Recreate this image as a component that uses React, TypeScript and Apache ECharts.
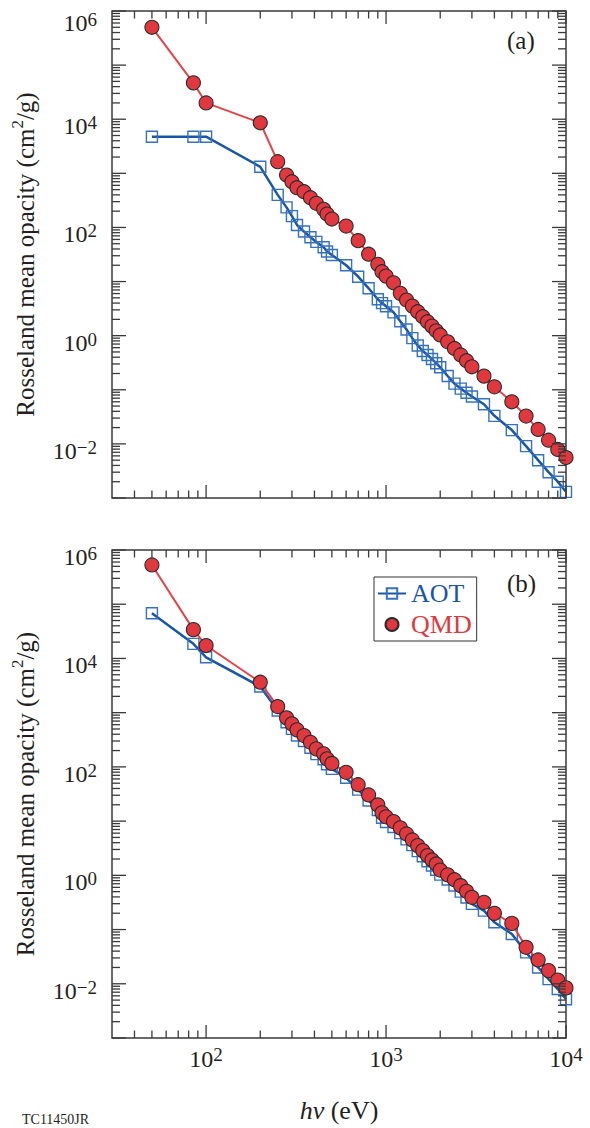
import React, { useEffect, useRef } from "react";
import * as echarts from "echarts";

// ---------- data ----------
const photonEnergyEV = [
  50, 85, 100, 200, 250, 280, 300, 320, 350, 380, 410, 450, 470, 500, 600, 700, 800, 900, 950, 1000,
  1100, 1200, 1300, 1400, 1500, 1600, 1700, 1800, 1900, 2000, 2200, 2400, 2600, 2800, 3000, 3500, 4000,
  5000, 6000, 7000, 8000, 9000, 10000,
];

// panel (a)
const aotOpacityA = [
  4750, 4750, 4750, 1320, 400, 235, 162, 111, 84, 66, 54, 43, 36, 31, 20, 12.3, 7.5, 4.7, 4.0, 3.5,
  2.7, 1.85, 1.3, 0.9, 0.66, 0.52, 0.44, 0.37, 0.31, 0.26, 0.18, 0.13, 0.105, 0.088, 0.075, 0.054, 0.033,
  0.018, 0.0091, 0.005, 0.003, 0.002, 0.0013,
];
const qmdOpacityA = [
  5.0e5, 4.7e4, 2.0e4, 8600, 1640, 930, 700, 542, 457, 354, 279, 216, 177, 143, 106, 57, 32, 20.8, 15.2, 12.6,
  9.5, 6.05, 4.55, 3.52, 2.77, 2.24, 1.81, 1.5, 1.23, 1.03, 0.77, 0.58, 0.44, 0.344, 0.266, 0.179, 0.1135,
  0.06, 0.0327, 0.0185, 0.0117, 0.0079, 0.0056,
];

// panel (b)
const aotOpacityB = [
  6.8e4, 1.86e4, 1.05e4, 3030, 1094, 665, 502, 380, 300, 225, 172, 138, 112, 92, 63, 38, 24, 16, 11.5, 9.6,
  7.8, 6.0, 4.6, 3.6, 2.8, 2.25, 1.82, 1.52, 1.27, 1.03, 0.84, 0.65, 0.5, 0.39, 0.297, 0.223, 0.136,
  0.083, 0.038, 0.02, 0.0122, 0.008, 0.0052,
];
const qmdOpacityB = [
  5.3e5, 3.4e4, 1.73e4, 3640, 1297, 802, 621, 482, 378, 284, 215, 174, 141, 116, 79.4, 47, 30.4, 19.9, 14.2, 12,
  9.8, 7.5, 5.8, 4.5, 3.53, 2.86, 2.31, 1.92, 1.62, 1.25, 1.02, 0.83, 0.645, 0.507, 0.393, 0.318, 0.199,
  0.13, 0.047, 0.0275, 0.0175, 0.0117, 0.0084,
];

// axis ticks
const xMajorTicks = [100, 1000, 10000];
const xMinorTicks = [40, 50, 60, 70, 80, 90, 200, 300, 400, 500, 600, 700, 800, 900, 2000, 3000, 4000, 5000, 6000, 7000, 8000, 9000];
const yDecades = [1e-3, 1e-2, 1e-1, 1, 10, 100, 1e3, 1e4, 1e5, 1e6];
const yMinorMultipliers = [2, 3, 4, 5, 6, 7, 8, 9];

const X_MIN = 30;
const X_MAX = 10000;
const Y_MIN = 1e-3;
const Y_MAX = 1e6;

const SERIF = "'Liberation Serif', 'Times New Roman', serif";
const INK = "#231f20";
const BLUE_LINE = "#1a56a6";
const BLUE_MARK = "#3571bf";
const RED_LINE = "#e4434a";
const RED_MARK = "#e1373e";
const FRAME = "#3a3a3a";

const sup = (e: number) => (e < 0 ? "\u2212" + Math.abs(e) : String(e));
const powLabel = (v: number, step: number, topExp?: number) => {
  const l = Math.log10(v);
  const e = Math.round(l);
  if (Math.abs(l - e) > 1e-6 || e % step !== 0) return "";
  if (topExp !== undefined && e === topExp) return `{bt|10}{st|${sup(e)}}`;
  return `{b|10}{s|${sup(e)}}`;
};

// y tick labels: both tokens bottom-aligned, exponent lifted by bottom padding
const yLabelRich = {
  b: { fontSize: 24, lineHeight: 38, verticalAlign: "bottom", fontFamily: SERIF, color: INK },
  s: { fontSize: 19, lineHeight: 38, verticalAlign: "bottom", padding: [0, 0, 6, 0], fontFamily: SERIF, color: INK },
  // label at the top corner sits a little lower, inside the page
  bt: { fontSize: 24, lineHeight: 48, verticalAlign: "bottom", fontFamily: SERIF, color: INK },
  st: { fontSize: 19, lineHeight: 48, verticalAlign: "bottom", padding: [0, 0, 6, 0], fontFamily: SERIF, color: INK },
};
// x tick labels: block hangs below the axis
const xLabelRich = {
  b: { fontSize: 24, lineHeight: 24, padding: [10, 0, 0, 0], verticalAlign: "bottom", fontFamily: SERIF, color: INK },
  s: { fontSize: 19, lineHeight: 26, verticalAlign: "top", fontFamily: SERIF, color: INK },
};

const yNameRich = {
  n: { fontSize: 25, lineHeight: 32, fontFamily: SERIF, color: INK },
  s: { fontSize: 17, lineHeight: 16, verticalAlign: "top", fontFamily: SERIF, color: INK },
};

const tickStyle = { stroke: FRAME, lineWidth: 1.3 };

function xTickRender(_params: any, api: any) {
  const v = api.value(0);
  const major = api.value(2) === 1;
  const b = api.coord([v, Y_MIN]);
  const t = api.coord([v, Y_MAX]);
  const len = major ? 13 : 7.5;
  return {
    type: "group",
    children: [
      { type: "line", shape: { x1: b[0], y1: b[1], x2: b[0], y2: b[1] - len }, style: tickStyle },
      { type: "line", shape: { x1: t[0], y1: t[1], x2: t[0], y2: t[1] + len }, style: tickStyle },
    ],
  };
}

function yTickRender(_params: any, api: any) {
  const v = api.value(1);
  const major = api.value(2) === 1;
  const l = api.coord([X_MIN, v]);
  const r = api.coord([X_MAX, v]);
  const len = major ? 14 : 8;
  return {
    type: "group",
    children: [
      { type: "line", shape: { x1: l[0], y1: l[1], x2: l[0] + len, y2: l[1] }, style: tickStyle },
      { type: "line", shape: { x1: r[0], y1: r[1], x2: r[0] - len, y2: r[1] }, style: tickStyle },
    ],
  };
}

export default function App() {
  const ref = useRef<HTMLDivElement>(null);

  useEffect(() => {
    if (!ref.current) return;
    const chart = echarts.init(ref.current, undefined, { renderer: "svg" });

    const xTickData = [
      ...xMajorTicks.map((v) => [v, Y_MIN, 1]),
      ...xMinorTicks.map((v) => [v, Y_MIN, 0]),
    ];
    const yMinorTicks: number[] = [];
    yDecades.slice(0, -1).forEach((d) => yMinorMultipliers.forEach((m) => yMinorTicks.push(d * m)));
    const yTickData = [
      ...yDecades.map((v) => [X_MIN, v, 1]),
      ...yMinorTicks.map((v) => [X_MIN, v, 0]),
    ];

    const zip = (ys: number[]) => photonEnergyEV.map((x, i) => [x, ys[i]]);

    const gridBase = {
      left: 112,
      width: 454,
      show: true,
      borderColor: FRAME,
      borderWidth: 1.5,
      backgroundColor: "transparent",
      outerBoundsMode: "none",
      containLabel: false,
    };

    const xAxisBase = {
      type: "log",
      logBase: 10,
      min: X_MIN,
      max: X_MAX,
      axisLine: { show: false },
      axisTick: { show: false },
      splitLine: { show: false },
      minorTick: { show: false },
    };

    const yName = "{n|Rosseland mean opacity (cm}{s|2}{n|/g)}";
    const yAxisBase = (topExp?: number) => ({
      type: "log",
      logBase: 10,
      min: Y_MIN,
      max: Y_MAX,
      axisLine: { show: false },
      axisTick: { show: false },
      splitLine: { show: false },
      minorTick: { show: false },
      axisLabel: {
        show: true,
        margin: 15,
        formatter: (v: number) => powLabel(v, 2, topExp),
        rich: yLabelRich,
      },
      name: yName,
      nameLocation: "middle",
      nameRotate: 90,
      nameGap: 71,
      nameTextStyle: { rich: yNameRich },
    });

    const blueSeries = (ys: number[], idx: number) => ({
      type: "line",
      name: "AOT",
      xAxisIndex: idx,
      yAxisIndex: idx,
      data: zip(ys),
      symbol: "rect",
      symbolSize: 11,
      itemStyle: { color: "rgba(0,0,0,0)", borderColor: BLUE_MARK, borderWidth: 1.4 },
      lineStyle: { color: BLUE_LINE, width: 2.5 },
      z: 3,
      silent: true,
    });
    const redSeries = (ys: number[], idx: number) => ({
      type: "line",
      name: "QMD",
      xAxisIndex: idx,
      yAxisIndex: idx,
      data: zip(ys),
      symbol: "circle",
      symbolSize: 14,
      itemStyle: { color: RED_MARK, borderColor: "#2a2a2a", borderWidth: 1.1 },
      lineStyle: { color: RED_LINE, width: 2 },
      z: 4,
      silent: true,
    });
    const tickSeries = (idx: number) => [
      {
        type: "custom",
        xAxisIndex: idx,
        yAxisIndex: idx,
        data: xTickData,
        renderItem: xTickRender,
        clip: false,
        silent: true,
        z: 5,
      },
      {
        type: "custom",
        xAxisIndex: idx,
        yAxisIndex: idx,
        data: yTickData,
        renderItem: yTickRender,
        clip: false,
        silent: true,
        z: 5,
      },
    ];

    const option: any = {
      animation: false,
      backgroundColor: "#ffffff",
      textStyle: { fontFamily: SERIF },
      grid: [
        { ...gridBase, top: 11, height: 487 },
        { ...gridBase, top: 550, height: 488 },
      ],
      xAxis: [
        { ...xAxisBase, gridIndex: 0, axisLabel: { show: false } },
        {
          ...xAxisBase,
          gridIndex: 1,
          axisLabel: {
            show: true,
            margin: 7,
            formatter: (v: number) => powLabel(v, 1),
            rich: xLabelRich,
          },
          name: "{i|h\u03BD} {n|(eV)}",
          nameLocation: "middle",
          nameGap: 59,
          nameTextStyle: {
            fontSize: 26,
            fontFamily: SERIF,
            color: INK,
            rich: {
              i: { fontSize: 26, fontStyle: "italic", fontFamily: SERIF, color: INK },
              n: { fontSize: 26, fontFamily: SERIF, color: INK },
            },
          },
        },
      ],
      yAxis: [
        { ...yAxisBase(6), gridIndex: 0 },
        { ...yAxisBase(), gridIndex: 1 },
      ],
      legend: {
        orient: "vertical",
        left: 374,
        top: 577,
        padding: [3, 5, 3, 3],
        itemGap: 4,
        itemWidth: 28,
        itemHeight: 13,
        borderColor: "#333333",
        borderWidth: 1,
        selectedMode: false,
        textStyle: { fontFamily: SERIF, fontSize: 26, lineHeight: 27 },
        data: [
          { name: "AOT", textStyle: { color: BLUE_LINE } },
          { name: "QMD", icon: "circle", textStyle: { color: RED_MARK } },
        ],
      },
      graphic: [
        {
          type: "text",
          left: 507,
          top: 28,
          style: { text: "(a)", font: `25px ${SERIF}`, fill: INK },
        },
        {
          type: "text",
          left: 507,
          top: 571,
          style: { text: "(b)", font: `25px ${SERIF}`, fill: INK },
        },
        {
          type: "text",
          left: 22,
          top: 1112,
          style: { text: "TC11450JR", font: `14px ${SERIF}`, fill: INK },
        },
      ],
      series: [
        ...tickSeries(0),
        ...tickSeries(1),
        blueSeries(aotOpacityA, 0),
        redSeries(qmdOpacityA, 0),
        blueSeries(aotOpacityB, 1),
        redSeries(qmdOpacityB, 1),
      ],
    };

    chart.setOption(option);
    return () => chart.dispose();
  }, []);

  return (
    <div
      ref={ref}
      style={{ position: "absolute", left: 0, top: 0, width: 590, height: 1128, background: "#fff" }}
    />
  );
}
